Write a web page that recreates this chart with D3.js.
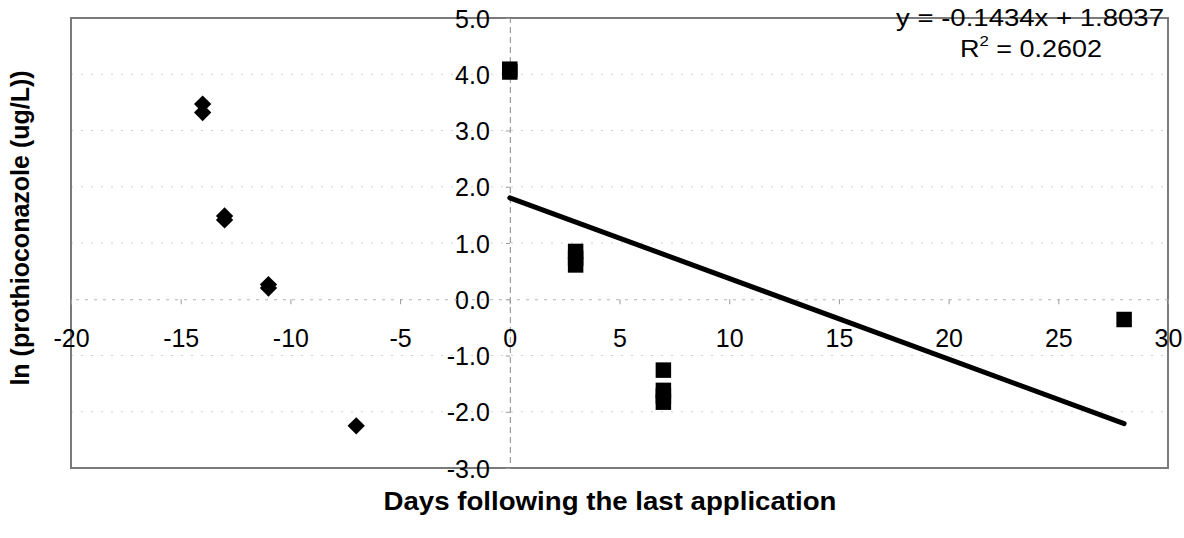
<!DOCTYPE html>
<html>
<head>
<meta charset="utf-8">
<script src="https://cdn.jsdelivr.net/npm/d3@7"></script>
<style>
    body { margin: 0; background: #fff; }
    text { font-family: "Liberation Sans", Arial, sans-serif; fill: #000; }
</style>
</head>
<body>
<div id="chart"></div>
<script>
// 散点 + 趋势线
const preDays = [-14, -14, -13, -13, -11, -11, -7];
const preLn = [3.47, 3.32, 1.48, 1.41, 0.26, 0.20, -2.25];
const postDays = [0, 0, 3, 3, 3, 7, 7, 7, 7, 28];
const postLn = [4.09, 4.04, 0.85, 0.73, 0.61, -1.26, -1.62, -1.72, -1.83, -0.36];
const slope = -0.1434;
const intercept = 1.8037;
const r2 = 0.2602;
const trendDays = [0, 28];
const xTicks = [-20, -15, -10, -5, 0, 5, 10, 15, 20, 25, 30];
const yTicks = [-3, -2, -1, 0, 1, 2, 3, 4, 5];

drawChart();

function drawChart() {
    const width = 1184;
    const height = 538;

    const svg = d3.select("#chart").append("svg")
        .attr("width", width)
        .attr("height", height);

    const x = d3.scaleLinear([-20, 30], [71, 1168]);
    const y = d3.scaleLinear([-3, 5], [468, 18]);

    // gridlines (faint, dotted like the scan)
    svg.append("g")
        .selectAll("line")
        .data(yTicks.filter(d => d > -3 && d < 5 && d !== 0))
        .join("line")
        .attr("x1", x(-20)).attr("x2", x(30))
        .attr("y1", d => y(d)).attr("y2", d => y(d))
        .attr("stroke", "#cfcfcf")
        .attr("stroke-dasharray", "2,8");

    // plot border
    svg.append("rect")
        .attr("x", x(-20)).attr("y", y(5))
        .attr("width", x(30) - x(-20))
        .attr("height", y(-3) - y(5))
        .attr("fill", "none")
        .attr("stroke", "#7a7a7a")
        .attr("stroke-width", 2);

    // y axis at x = 0 (hyphen minus, like the original)
    const yAxis = svg.append("g")
        .attr("transform", `translate(${x(0)},0)`)
        .call(d3.axisLeft(y).tickValues(yTicks).tickFormat(d => d.toFixed(1)).tickSize(4).tickPadding(16));

    // x axis at y = 0
    const xAxis = svg.append("g")
        .attr("transform", `translate(0,${y(0)})`)
        .call(d3.axisBottom(x).tickValues(xTicks).tickFormat(d => String(d)).tickSize(5).tickPadding(25));

    yAxis.select(".domain")
        .attr("stroke", "#888")
        .attr("stroke-dasharray", "6,4");
    xAxis.select(".domain")
        .attr("stroke", "#b5b5b5")
        .attr("stroke-dasharray", "3,6");
    [yAxis, xAxis].forEach(g => {
        g.selectAll(".tick line").attr("stroke", "#999");
        g.selectAll(".tick text")
            .style("font-size", "25px")
            .attr("fill", "#000");
    });
    yAxis.selectAll(".tick text").attr("dy", "0.36em");

    // trend line
    svg.append("line")
        .attr("x1", x(trendDays[0])).attr("y1", y(slope * trendDays[0] + intercept))
        .attr("x2", x(trendDays[1])).attr("y2", y(slope * trendDays[1] + intercept))
        .attr("stroke", "#000")
        .attr("stroke-width", 5)
        .attr("stroke-linecap", "round");

    // diamonds: before last application
    svg.append("g")
        .selectAll("path")
        .data(preDays.map((d, i) => [d, preLn[i]]))
        .join("path")
        .attr("d", d3.symbol(d3.symbolSquare, 150))
        .attr("transform", d => `translate(${x(d[0])},${y(d[1])}) rotate(45)`)
        .attr("fill", "#000");

    // squares: after last application
    svg.append("g")
        .selectAll("path")
        .data(postDays.map((d, i) => [d, postLn[i]]))
        .join("path")
        .attr("d", d3.symbol(d3.symbolSquare, 240))
        .attr("transform", d => `translate(${x(d[0])},${y(d[1])})`)
        .attr("fill", "#000");

    // equation label
    const eq = svg.append("g")
        .attr("text-anchor", "middle")
        .style("font-size", "24px");
    eq.append("text")
        .attr("x", 1030).attr("y", 26)
        .attr("textLength", 268)
        .attr("lengthAdjust", "spacingAndGlyphs")
        .text(`y = ${slope}x + ${intercept}`);
    const r = eq.append("text")
        .attr("x", 1031).attr("y", 57)
        .attr("textLength", 142)
        .attr("lengthAdjust", "spacingAndGlyphs");
    r.append("tspan").text("R");
    r.append("tspan").attr("dy", -11).style("font-size", "15px").text("2");
    r.append("tspan").attr("dy", 11).text(` = ${r2}`);

    // axis titles
    svg.append("text")
        .attr("x", 610).attr("y", 510)
        .attr("text-anchor", "middle")
        .attr("textLength", 453)
        .attr("lengthAdjust", "spacingAndGlyphs")
        .style("font-size", "25px")
        .style("font-weight", "bold")
        .text("Days following the last application");

    svg.append("text")
        .attr("transform", "translate(29,228) rotate(-90)")
        .attr("text-anchor", "middle")
        .style("font-size", "25px")
        .style("font-weight", "bold")
        .text("ln (prothioconazole (ug/L))");
}
</script>
</body>
</html>
